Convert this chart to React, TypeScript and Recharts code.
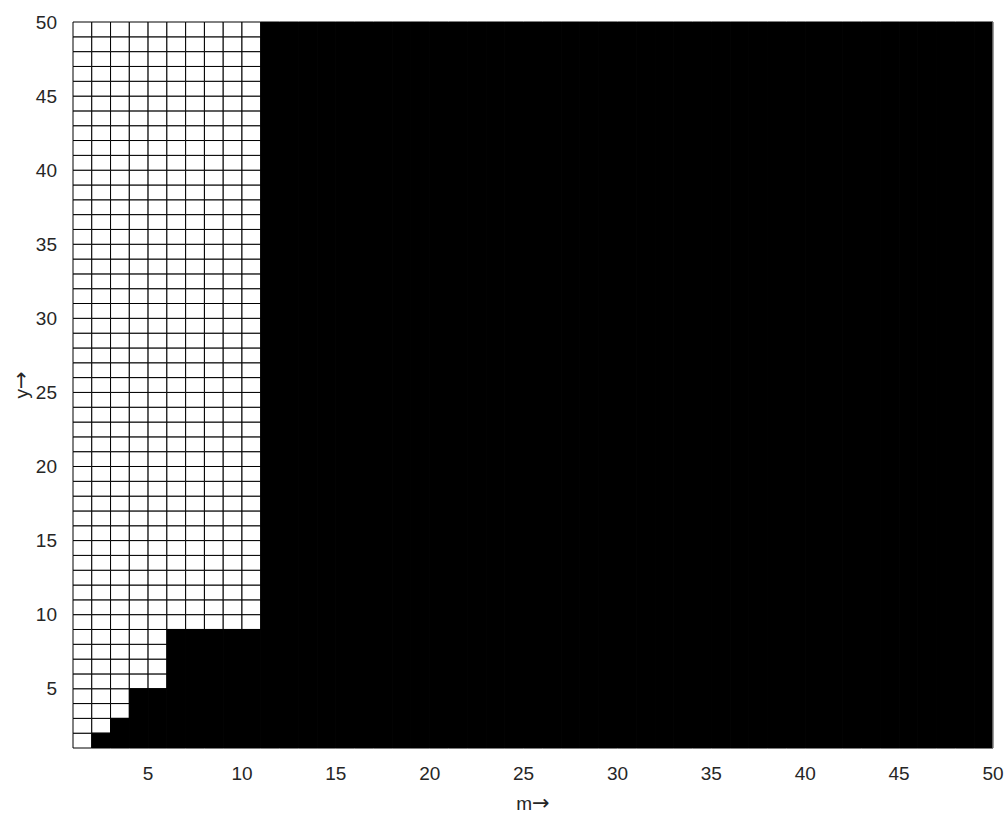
import React from 'react';
import { ComposedChart, XAxis, YAxis, ReferenceArea, ReferenceLine } from 'recharts';

// column left edges m = 1..49 (each cell spans [m, m+1])
const columns = [
  1, 2, 3, 4, 5, 6, 7, 8, 9, 10, 11, 12, 13, 14, 15, 16, 17, 18, 19, 20,
  21, 22, 23, 24, 25, 26, 27, 28, 29, 30, 31, 32, 33, 34, 35, 36, 37, 38, 39, 40,
  41, 42, 43, 44, 45, 46, 47, 48, 49,
];

// top of the black (filled) region in each column
const blackTop = [
  1, 2, 3, 5, 5, 9, 9, 9, 9, 9, 50, 50, 50, 50, 50, 50, 50, 50, 50, 50,
  50, 50, 50, 50, 50, 50, 50, 50, 50, 50, 50, 50, 50, 50, 50, 50, 50, 50, 50, 50,
  50, 50, 50, 50, 50, 50, 50, 50, 50,
];

// row lower edges y = 1..49
const rows = [
  1, 2, 3, 4, 5, 6, 7, 8, 9, 10, 11, 12, 13, 14, 15, 16, 17, 18, 19, 20,
  21, 22, 23, 24, 25, 26, 27, 28, 29, 30, 31, 32, 33, 34, 35, 36, 37, 38, 39, 40,
  41, 42, 43, 44, 45, 46, 47, 48, 49,
];

const xTicks = [5, 10, 15, 20, 25, 30, 35, 40, 45, 50];
const yTicks = [5, 10, 15, 20, 25, 30, 35, 40, 45, 50];

const font = '"Liberation Sans", Arial, sans-serif';
const tickStyle = { fontSize: 19, fill: '#262626', fontFamily: font };
const arrowFont = '"DejaVu Sans", sans-serif';

export default function App() {
  const cells: React.ReactNode[] = [];
  columns.forEach((m, i) => {
    rows.forEach((y) => {
      if (y >= blackTop[i]) {
        cells.push(
          <ReferenceArea
            key={`w-${m}-${y}`}
            x1={m}
            x2={m + 1}
            y1={y}
            y2={y + 1}
            fill="#ffffff"
            fillOpacity={1}
            stroke="#000000"
            strokeWidth={1}
            ifOverflow="visible"
          />
        );
      }
    });
    if (blackTop[i] > 1) {
      cells.push(
        <ReferenceArea
          key={`b-${m}`}
          x1={m}
          x2={m + 1}
          y1={1}
          y2={blackTop[i]}
          fill="#000000"
          fillOpacity={1}
          stroke="#000000"
          strokeWidth={1}
          ifOverflow="visible"
        />
      );
    }
  });

  return (
    <div style={{ position: 'absolute', left: 0, top: 0, background: '#fff' }}>
      <style>{`body{margin:0}`}</style>
      <ComposedChart width={1008} height={819} margin={{ top: 22, right: 15, bottom: 0, left: 0 }}>
        <XAxis
          type="number"
          dataKey="m"
          domain={[1, 50]}
          ticks={xTicks}
          allowDataOverflow
          height={71}
          tickLine={false}
          axisLine={false}
          tick={tickStyle}
          tickMargin={13}
          label={{
            value: 'm→',
            content: (props: any) => {
              const vb = props.viewBox || {};
              const cx = (vb.x || 0) + (vb.width || 0) / 2;
              const cy = 803;
              return (
                <text
                  x={cx}
                  y={cy}
                  textAnchor="middle"
                  dominantBaseline="central"
                  style={{ fontSize: 19, fill: '#262626', fontFamily: font }}
                >
                  m<tspan style={{ fontFamily: arrowFont, fontSize: 21 }}>→</tspan>
                </text>
              );
            },
          }}
        />
        <YAxis
          type="number"
          domain={[1, 50]}
          ticks={yTicks}
          allowDataOverflow
          width={73}
          tickLine={false}
          axisLine={false}
          tick={tickStyle}
          tickMargin={10}
          label={{
            value: 'y→',
            content: (props: any) => {
              const vb = props.viewBox || {};
              const cx = 21;
              const cy = (vb.y || 0) + (vb.height || 0) / 2;
              return (
                <text
                  x={cx}
                  y={cy}
                  transform={`rotate(-90, ${cx}, ${cy})`}
                  textAnchor="middle"
                  dominantBaseline="central"
                  style={{ fontSize: 19, fill: '#262626', fontFamily: font }}
                >
                  y<tspan style={{ fontFamily: arrowFont, fontSize: 21 }}>→</tspan>
                </text>
              );
            },
          }}
        />
        {cells}
        <ReferenceLine x={50} stroke="#bdbdbd" strokeWidth={1} ifOverflow="visible" />
      </ComposedChart>
    </div>
  );
}
